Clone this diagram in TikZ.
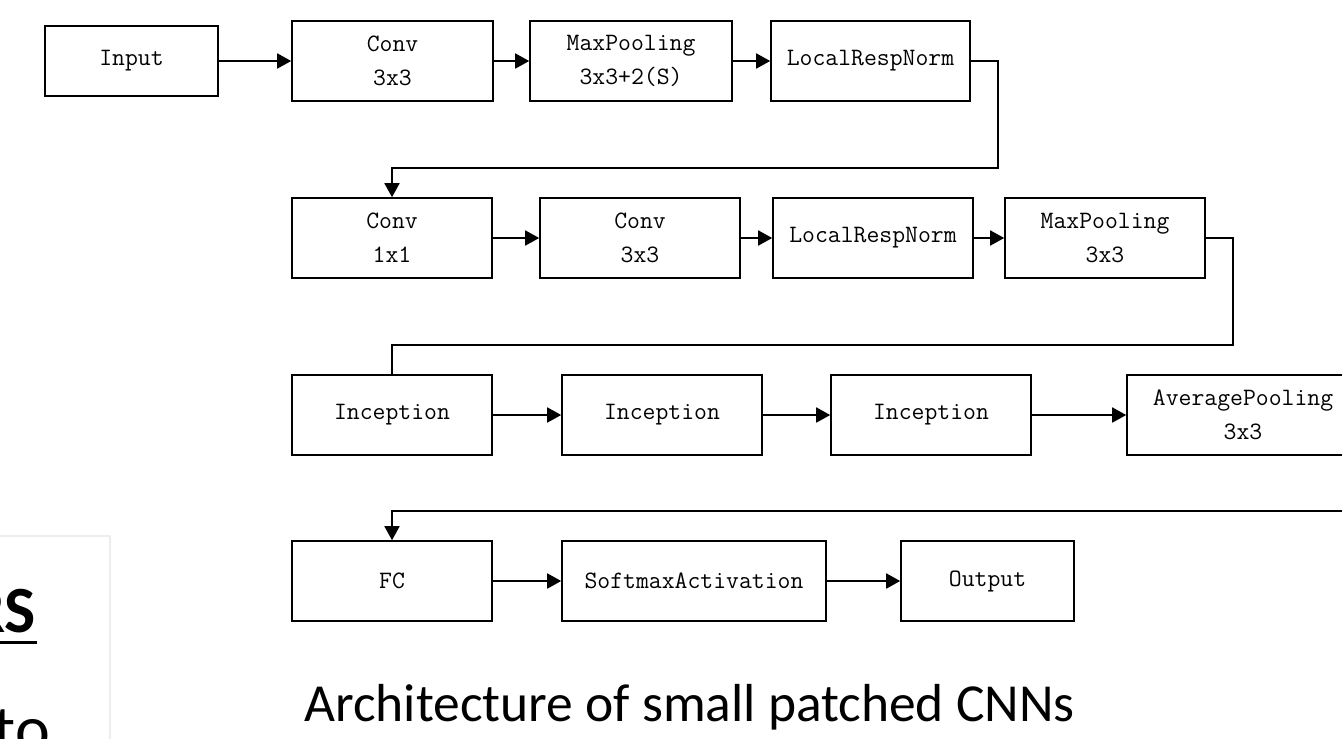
\documentclass[tikz,border=0pt]{standalone}
\usepackage{fontspec}
\newfontfamily\capfont{Carlito}
\usetikzlibrary{arrows.meta,calc}
\tikzset{
  blk/.style={draw, line width=1.6pt, minimum height=80pt, minimum width=200pt, inner sep=0pt, align=center, font=\ttfamily\fontsize{25}{34}\selectfont},
  arr/.style={line width=1.8pt, -{Triangle[length=14pt,width=15pt]}},
  ln/.style={line width=1.6pt}
}
\begin{document}
\begin{tikzpicture}[x=1pt,y=-1pt]
\fill[white] (0,0) rectangle (1342,739);
\useasboundingbox (0,0) rectangle (1342,739);
% row 1
\node[blk, minimum width=173pt, minimum height=70pt] (in) at (131.5,61) {Input};
\node[blk, minimum width=201pt] (c1) at (392.5,61) {Conv\\3x3};
\node[blk, minimum width=202pt] (mp1) at (631,61) {MaxPooling\\3x3+2(S)};
\node[blk, minimum width=199pt] (lrn1) at (870.5,61) {LocalRespNorm};
% row 2
\node[blk] (c11) at (392,238) {Conv\\1x1};
\node[blk] (c33) at (640,238) {Conv\\3x3};
\node[blk] (lrn2) at (873,238) {LocalRespNorm};
\node[blk] (mp2) at (1105,238) {MaxPooling\\3x3};
% row 3
\node[blk] (inc1) at (392,415) {Inception};
\node[blk] (inc2) at (662,415) {Inception};
\node[blk] (inc3) at (931,415) {Inception};
\node[blk, minimum width=232pt] (avg) at (1243,415) {AveragePooling\\3x3};
% row 4
\node[blk] (fc) at (392,581) {FC};
\node[blk, minimum width=264pt] (sm) at (694,581) {SoftmaxActivation};
\node[blk, minimum width=173pt] (out) at (987.5,581) {Output};
% connectors
\draw[arr] (in) -- (c1);
\draw[arr] (c1) -- (mp1);
\draw[arr] (mp1) -- (lrn1);
\coordinate (k1) at (998,168);
\draw[arr] (lrn1.east) -| (k1) -| (c11.north);
\draw[arr] (c11) -- (c33);
\draw[arr] (c33) -- (lrn2);
\draw[arr] (lrn2) -- (mp2);
\coordinate (k2) at (1233,345);
\draw[ln] (mp2.east) -| (k2) -| (inc1.north);
\draw[arr] (inc1) -- (inc2);
\draw[arr] (inc2) -- (inc3);
\draw[arr] (inc3) -- (avg);
\coordinate (k3) at (1395,511);
\draw[arr] (avg.east) -| (k3) -| (fc.north);
\draw[arr] (fc) -- (sm);
\draw[arr] (sm) -- (out);
% caption
\node[font=\capfont\fontsize{53.5}{60}\selectfont, anchor=base, inner sep=0pt] (cap) at (689.5,721) {Architecture of small patched CNNs};
% left slide fragment
\draw[draw=black!7, line width=2pt] (-10,536) rectangle (110,760);
\node[font=\capfont\bfseries\fontsize{66}{70}\selectfont, anchor=base east, inner sep=0pt] (rs) at (36,632) {RS};
\draw[line width=3pt] ([yshift=-10pt,xshift=-10pt]rs.base west) -- ([yshift=-10pt,xshift=1pt]rs.base east);
\node[font=\capfont\fontsize{66}{70}\selectfont, anchor=base east, inner sep=0pt] (to) at (50,751) {to};
\end{tikzpicture}
\end{document}
